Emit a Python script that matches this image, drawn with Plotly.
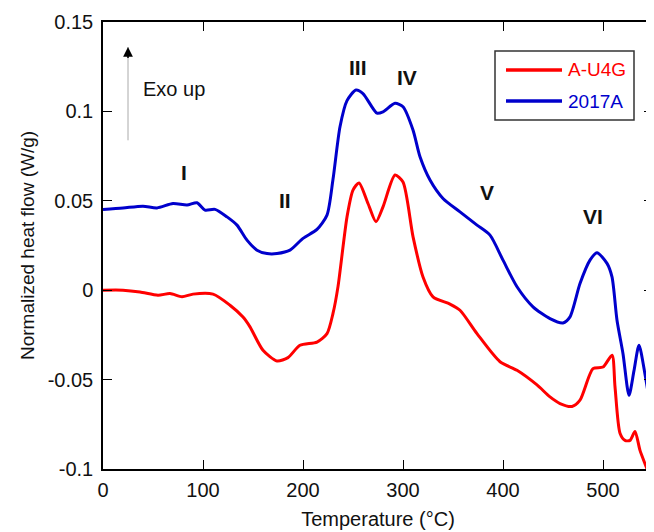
import plotly.graph_objects as go

# ---- data ----
temp_2017A = [0, 20, 40, 54, 70, 84, 94, 102, 112, 124, 134, 144, 154, 164, 174, 187, 200, 214, 224,
              230, 237, 244, 253, 260, 274, 280, 292, 300, 310, 317, 327, 340, 357, 374, 387, 400,
              414, 430, 447, 460, 467, 477, 487, 494, 504, 509, 514, 520, 526, 531, 536, 542, 550]
flow_2017A = [0.0452, 0.046, 0.047, 0.046, 0.0485, 0.0476, 0.0489, 0.0448, 0.0452, 0.041, 0.0364,
              0.028, 0.0224, 0.0205, 0.0205, 0.0224, 0.029, 0.034, 0.042,
              0.062, 0.0914, 0.106, 0.112, 0.110, 0.099, 0.0998, 0.1045, 0.1026, 0.0896, 0.0746,
              0.0616, 0.0513, 0.0438, 0.0364, 0.0308, 0.0168,
              0.0019, -0.0093, -0.0159, -0.0183, -0.0149, 0.0037, 0.0168, 0.0209, 0.015, 0.0074,
              -0.0168, -0.0355, -0.0588, -0.045, -0.0308, -0.047, -0.075]

temp_AU4G = [0, 20, 37, 55, 67, 79, 90, 110, 127, 140, 147, 160, 174, 185, 197, 214, 224, 230,
             235, 244, 250, 256, 265, 273, 280, 292, 300, 310, 320, 330, 347, 357, 374, 397, 414,
             434, 447, 457, 469, 477, 490, 500, 509, 512, 517, 522, 527, 532, 537, 544, 550]
flow_AU4G = [0, 0, -0.001, -0.0028, -0.0019, -0.0037, -0.0022, -0.0022, -0.0084, -0.015, -0.0205,
             -0.0336, -0.0396, -0.0377, -0.0308, -0.029, -0.0243, -0.013,
             0.002, 0.041, 0.056, 0.060, 0.0485, 0.0383, 0.0466, 0.0644, 0.0605, 0.030, 0.0074,
             -0.0037, -0.0078, -0.0112, -0.0243, -0.040, -0.0448,
             -0.053, -0.0597, -0.0634, -0.065, -0.0615, -0.0439, -0.043, -0.0364, -0.054, -0.080,
             -0.084, -0.084, -0.079, -0.0896, -0.1, -0.11]

series_names = ["A-U4G", "2017A"]
series_colors = ["#ff0000", "#0000cc"]

peak_labels = ["I", "II", "III", "IV", "V", "VI"]
peak_x = [81, 182, 255, 304, 384, 490]
peak_y = [0.066, 0.050, 0.1248, 0.1187, 0.0549, 0.041]

x_ticks = [0, 100, 200, 300, 400, 500]
y_ticks = [-0.1, -0.05, 0, 0.05, 0.1, 0.15]
y_tick_text = ["-0.1", "-0.05", "0", "0.05", "0.1", "0.15"]

FONT = "Liberation Sans, Arial, sans-serif"
TXT = "#111111"

fig = go.Figure()
for name, color, xs, ys in zip(series_names, series_colors,
                               [temp_AU4G, temp_2017A], [flow_AU4G, flow_2017A]):
    fig.add_trace(go.Scatter(x=xs, y=ys, mode="lines", name=name, showlegend=False,
                             line=dict(color=color, width=3, shape="spline", smoothing=0.7)))

# hand-drawn legend (longer line samples, coloured labels, boxed)
fig.add_shape(type="rect", xref="x", yref="y", x0=392, x1=531, y0=0.0952, y1=0.1338,
              line=dict(color="#333333", width=1.5), fillcolor="white", layer="above")
for i, (name, color) in enumerate(zip(series_names, series_colors)):
    ly = 0.1232 - i * 0.0174
    fig.add_shape(type="line", xref="x", yref="y", x0=403, x1=459, y0=ly, y1=ly,
                  line=dict(color=color, width=3.5), layer="above")
    fig.add_annotation(x=463, y=ly, xref="x", yref="y", text=name, showarrow=False,
                       xanchor="left", font=dict(size=19, color=color, family=FONT))

for t, px, py in zip(peak_labels, peak_x, peak_y):
    fig.add_annotation(x=px, y=py, text=f"<b>{t}</b>", showarrow=False,
                       font=dict(size=21, color=TXT, family=FONT))

# Exo up arrow: grey shaft + black head
fig.add_annotation(x=25, y=0.136, ax=25, ay=0.083, axref="x", ayref="y", xref="x", yref="y",
                   showarrow=True, arrowhead=0, arrowwidth=1, arrowcolor="#aaaaaa", text="")
fig.add_annotation(x=25, y=0.136, ax=25, ay=0.129, axref="x", ayref="y", xref="x", yref="y",
                   showarrow=True, arrowhead=2, arrowsize=1.3, arrowwidth=1.5,
                   arrowcolor="#000000", text="")
fig.add_annotation(x=38, y=0.1125, text="Exo up", showarrow=False, xanchor="left",
                   font=dict(size=20, color=TXT, family=FONT))

axis_common = dict(showline=True, linecolor="#000000", linewidth=1.5, mirror="ticks",
                   ticks="inside", ticklen=9, tickwidth=1, tickcolor="#000000",
                   showgrid=False, zeroline=False, automargin=False,
                   tickfont=dict(size=20, color=TXT, family=FONT))

fig.update_xaxes(range=[0, 550], tickvals=x_ticks, ticklabelstandoff=2,
                 title=dict(text="Temperature (°C)", font=dict(size=20, color=TXT, family=FONT),
                            standoff=12),
                 **axis_common)
fig.update_yaxes(range=[-0.1, 0.15], tickvals=y_ticks, ticktext=y_tick_text, ticklabelstandoff=4,
                 title=dict(text="Normalized heat flow (W/g)",
                            font=dict(size=19, color=TXT, family=FONT), standoff=8),
                 **axis_common)

# the page body adds an 8 px offset, so the figure is sized to fill the remaining window
fig.update_layout(
    width=646, height=524,
    margin=dict(l=95, r=1, t=14, b=63, autoexpand=False),
    plot_bgcolor="white", paper_bgcolor="white",
    font=dict(family=FONT, size=19, color=TXT),
    showlegend=False,
)

fig.write_html("out.html")
